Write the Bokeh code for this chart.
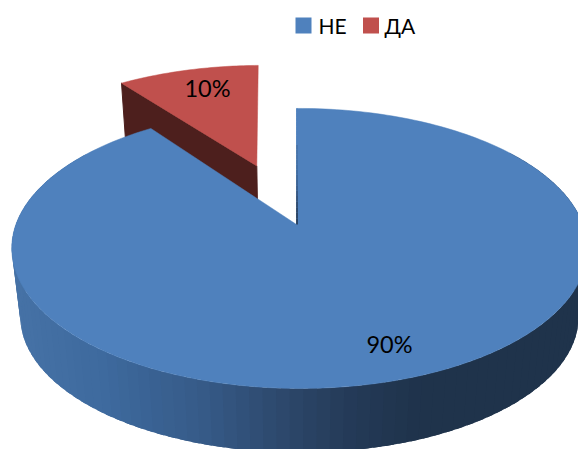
import numpy as np
from bokeh.plotting import figure
from bokeh.models import Range1d
from bokeh.core.properties import value
from bokeh.embed import file_html
from bokeh.resources import INLINE

categories = ["НЕ", "ДА"]
shares = [90, 10]
colors = ["#4f81bd", "#c0504d"]
wall_red = "#4d1f1d"

# projection of the tilted disc, in page pixels
CX, CY, A, B, K, L = 296.0, 224.0, 283.5, 135.9, 0.171, -0.0104
DEPTH, SHRINK = 69.0, 0.97
EXPLODE = 0.49
RED_RIM_DX = -4.0
FONT = "Lato"


def project(u, v, bottom=False):
    u, v = np.asarray(u, float), np.asarray(v, float)
    w = 1 + K * v + L * u
    s = SHRINK if bottom else 1.0
    d = DEPTH if bottom else 0.0
    return CX + s * A * u / w, CY + d - s * B * v / w


def rim(t0, t1, n, u0=0.0, v0=0.0):
    t = np.radians(np.linspace(t0, t1, n))
    return u0 + np.sin(t), v0 + np.cos(t)


def shade(x):
    stops = [15, 100, 200, 290, 350, 420, 580]
    r = [70, 62, 54, 44, 36, 31, 31]
    g = [114, 106, 90, 70, 58, 51, 51]
    b = [166, 158, 135, 104, 87, 75, 75]
    return "#%02x%02x%02x" % (int(np.interp(x, stops, r)), int(np.interp(x, stops, g)), int(np.interp(x, stops, b)))


p = figure(width=578, height=449, x_range=Range1d(0, 578), y_range=Range1d(449, 0),
           output_backend="svg", toolbar_location=None, min_border=0)
p.axis.visible = False
p.grid.visible = False
p.outline_line_color = None
p.background_fill_color = "white"
p.border_fill_color = "white"

# slice angles from the values: blue runs clockwise from 12 o'clock, red fills the rest
blue_sweep = 360 * shares[0] / sum(shares)
red_sweep = 360 - blue_sweep
mid = np.radians(blue_sweep + red_sweep / 2)
u0, v0 = EXPLODE * np.sin(mid), EXPLODE * np.cos(mid)

# red slice: radial wall facing the viewer, then top face
ru, rv = rim(blue_sweep, 360, 40, u0, v0)
left_u, left_v = ru[0], rv[0]
ax, ay = project(u0, v0)
lx, ly = project(left_u, left_v)
bx, by = project([left_u, u0], [left_v, v0], bottom=True)
p.patch([float(ax), float(lx) + RED_RIM_DX, bx[0] + RED_RIM_DX, bx[1]],
        [float(ay), float(ly), by[0], by[1]], fill_color=wall_red, line_color=wall_red)
fx, fy = project(ru, rv)
p.patch(np.r_[float(ax), fx + RED_RIM_DX], np.r_[float(ay), fy],
        fill_color=colors[1], line_color=colors[1], line_width=0.5)

# blue slice: outer wall as shaded strips, each overlapping the next to hide seams
edges = np.linspace(55, min(305, blue_sweep), 110)
for a, b in zip(edges[:-1], edges[1:]):
    ua, va = rim(a, min(b + 1.5, edges[-1]), 4)
    x1, y1 = project(ua, va)
    x2, y2 = project(ua[::-1], va[::-1], bottom=True)
    c = shade(float(x1.mean()))
    p.patch(np.r_[x1, x2], np.r_[y1, y2], fill_color=c, line_color=None)

# blue slice: top face
bu, bv = rim(0, blue_sweep, 240)
fx, fy = project(np.r_[0, bu], np.r_[0, bv])
p.patch(fx, fy, fill_color=colors[0], line_color=colors[0], line_width=0.5)

# thin inner wall seen along the 12 o'clock edge
rs = np.linspace(0, 1, 24)
sx, sy = project(np.zeros_like(rs), rs)
sc = [shade(420 - 800 * r) if r < 0.62 else colors[0] for r in rs]
p.segment(sx[:-1] + 0.5, sy[:-1], sx[1:] + 0.5, sy[1:], line_color=sc[:-1], line_width=1.6)

# percentage labels
lab_x, lab_y = [389, 207], [343, 87]
p.text(lab_x, lab_y, text=[f"{s}%" for s in shares], text_font=value(FONT), text_font_size="23.5px",
       text_align="center", text_baseline="middle", text_color="black")

# legend
leg_sq, leg_tx, leg_y = [303, 370.5], [318, 384], 25
p.scatter(leg_sq, [leg_y] * 2, marker="square", size=16, fill_color=colors, line_color=None)
p.text(leg_tx, [leg_y] * 2, text=categories, text_font=value(FONT), text_font_size="21px",
       text_align="left", text_baseline="middle", text_color="black")

open("out.html", "w").write(file_html(p, INLINE))
